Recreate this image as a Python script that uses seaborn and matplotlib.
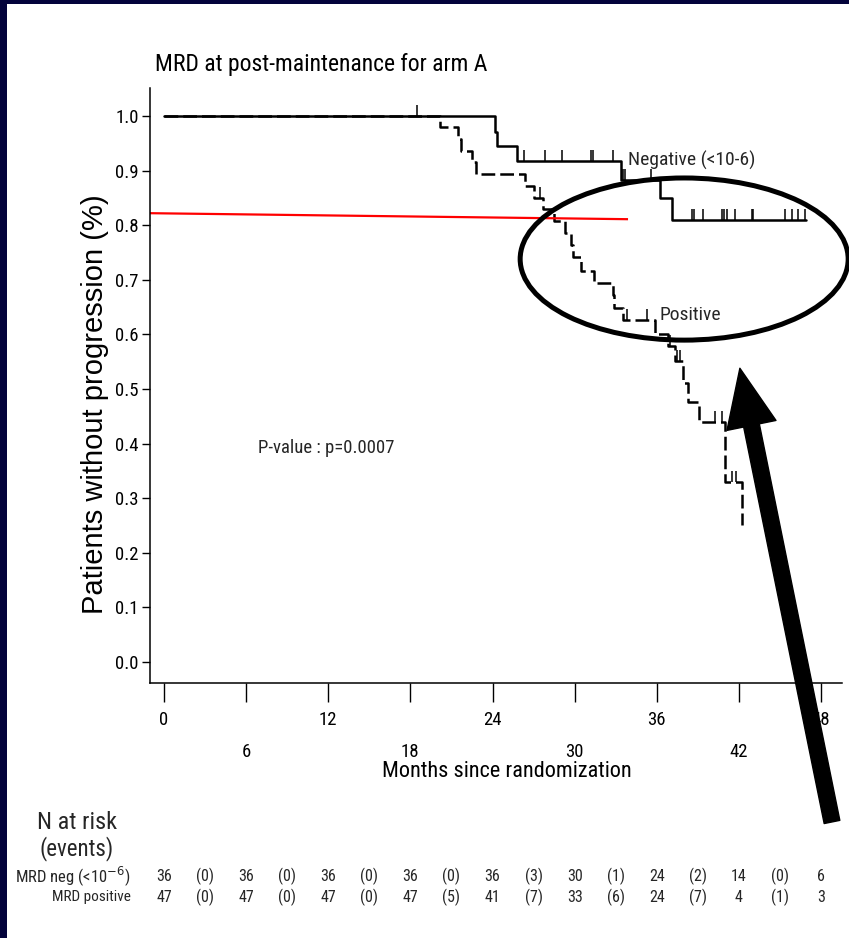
import numpy as np
import pandas as pd
import matplotlib
matplotlib.use("Agg")
import matplotlib.pyplot as plt
from matplotlib import font_manager
from matplotlib.font_manager import FontProperties
from matplotlib.patches import Ellipse, FancyArrowPatch, Rectangle
from matplotlib.transforms import blended_transform_factory
import seaborn as sns

# ---------------------------------------------------------------- data
# Kaplan-Meier steps: time of each drop (months) and survival after it
neg_months = [0, 24.2, 24.35, 25.8, 33.4, 36.2, 37.1, 46.9]
neg_surv = [1.0, 0.971, 0.945, 0.918, 0.883, 0.849, 0.810, 0.810]

pos_months = [0, 20.2, 21.5, 21.7, 22.5, 22.8, 26.4, 27.0, 27.7, 28.5, 29.3,
              29.7, 29.9, 30.5, 31.4, 32.8, 32.9, 33.55, 35.9, 36.8, 37.3,
              37.9, 38.3, 39.1, 41.0, 42.2]
pos_surv = [1.0, 0.979, 0.957, 0.936, 0.915, 0.894, 0.872, 0.850, 0.829, 0.807,
            0.785, 0.763, 0.741, 0.717, 0.695, 0.672, 0.649, 0.626, 0.601,
            0.578, 0.552, 0.511, 0.476, 0.440, 0.330, 0.250]

# censoring times
neg_censored = [18.5, 26.3, 27.8, 29.1, 31.2, 31.35, 32.8, 33.5, 33.7, 35.6,
                38.6, 38.7, 39.4, 40.8, 40.9, 41.1, 41.7, 42.95, 43.05, 45.4,
                45.9, 46.3, 46.85]
pos_censored = [27.5, 33.8, 35.3, 37.0, 37.5, 37.7, 40.25, 40.8, 41.5, 41.8]

# reference level line
ref_months = [-1.02, 33.9]
ref_level = [0.822, 0.811]

# number at risk (every 6 months) and events in between
risk_months = [0, 6, 12, 18, 24, 30, 36, 42, 48]
event_months = [3, 9, 15, 21, 27, 33, 39, 45]
neg_at_risk = [36, 36, 36, 36, 36, 30, 24, 14, 6]
neg_events = [0, 0, 0, 0, 3, 1, 2, 0]
pos_at_risk = [47, 47, 47, 47, 41, 33, 24, 4, 3]
pos_events = [0, 0, 0, 5, 7, 6, 7, 1]

x_ticks = [0, 6, 12, 18, 24, 30, 36, 42, 48]
y_ticks = [0.0, 0.1, 0.2, 0.3, 0.4, 0.5, 0.6, 0.7, 0.8, 0.9, 1.0]

# highlight ellipse (centre, width, height in data units) and arrow
ell_center = (38.0, 0.738)
ell_size = (23.96, 0.297)
arrow_tail = (48.8, -0.293)
arrow_tip = (42.07, 0.538)

# ---------------------------------------------------------------- fonts
sns.set_theme(style="white")
plt.rcParams["font.family"] = ["Liberation Sans", "DejaVu Sans"]


def pick_narrow_font():
    """Return FontProperties for a narrow sans face if one is installed."""
    pref = ["liberation sans narrow", "arial narrow", "roboto condensed",
            "noto sans condensed", "open sans condensed", "noto sans",
            "open sans", "dejavu sans", "liberation sans"]
    found = {}
    for f in font_manager.fontManager.ttflist:
        nm = f.name.lower()
        st = str(f.stretch).lower()
        narrow = ("narrow" in nm or ("condensed" in nm and "extra" not in nm
                                      and "semi" not in nm)
                  or st in ("condensed", "semi-condensed"))
        if not narrow or f.style != "normal":
            continue
        if f.weight not in (400, "normal", "regular", "book"):
            continue
        for i, p in enumerate(pref):
            if nm.startswith(p):
                if i not in found:
                    found[i] = f.fname
                break
    if found:
        return FontProperties(fname=found[min(found)]), True
    return FontProperties(family=["Liberation Sans", "DejaVu Sans"]), False


NARROW_FP, HAS_NARROW = pick_narrow_font()
K = 1.0 if HAS_NARROW else 0.86   # size factor when only a regular face exists


def nfp(size):
    fp = NARROW_FP.copy()
    fp.set_size(size * K)
    return fp


NAVY = "#03033b"
W, H = 849, 938
fig = plt.figure(figsize=(W / 100, H / 100), dpi=100)
fig.patch.set_facecolor("white")
fig.patches.append(Rectangle((0, 0), 7 / W, 1, transform=fig.transFigure,
                             facecolor=NAVY, edgecolor="none", zorder=-10))
fig.patches.append(Rectangle((0, 1 - 4 / H), 1, 4 / H, transform=fig.transFigure,
                             facecolor=NAVY, edgecolor="none", zorder=-10))

ax = fig.add_axes([150 / W, 1 - 683 / H, 692 / W, (683 - 88) / H])
ax.set_facecolor("none")

# ---------------------------------------------------------------- curves
df = pd.concat([
    pd.DataFrame({"Months": neg_months, "Survival": neg_surv, "MRD": "Negative"}),
    pd.DataFrame({"Months": pos_months, "Survival": pos_surv, "MRD": "Positive"}),
], ignore_index=True)

sns.lineplot(data=df, x="Months", y="Survival", style="MRD",
             dashes={"Negative": "", "Positive": (5.5, 2.0)},
             color="black", estimator=None, sort=False,
             drawstyle="steps-post", lw=1.8, legend=False, ax=ax)


def level_at(months, surv, t):
    idx = np.searchsorted(months, t, side="right") - 1
    return np.asarray(surv)[idx]


for cens, months, surv in [(neg_censored, neg_months, neg_surv),
                           (pos_censored, pos_months, pos_surv)]:
    lv = level_at(np.asarray(months), surv, np.asarray(cens))
    ax.vlines(cens, lv, lv + 0.02, color="black", lw=1.1)

ax.plot(ref_months, ref_level, color="red", lw=1.6, solid_capstyle="butt")

# ---------------------------------------------------------------- axes
ax.set_xlim(-1.02, 49.53)
ax.set_ylim(-0.0385, 1.0513)
for s in ["top", "right"]:
    ax.spines[s].set_visible(False)
for s in ["left", "bottom"]:
    ax.spines[s].set_color("black")
    ax.spines[s].set_linewidth(1.1)

ax.set_yticks(y_ticks)
ax.set_yticklabels([f"{v:.1f}" for v in y_ticks])
ax.tick_params(axis="y", direction="out", length=6, width=1, pad=2, colors="black", left=True)
for lab in ax.get_yticklabels():
    lab.set_fontproperties(nfp(13.5))

ax.set_xticks(x_ticks)
ax.set_xticklabels([str(v) for v in x_ticks])
ax.tick_params(axis="x", direction="out", length=14, width=1, colors="black", bottom=True)
for lab in ax.get_xticklabels():
    lab.set_fontproperties(nfp(13.5))
for i, tick in enumerate(ax.xaxis.get_major_ticks()):
    tick.set_pad(6 if i % 2 == 0 else 29)

ax.set_xlabel("")
ax.set_ylabel("")

fig.text(155 / W, 1 - 65 / H, "MRD at post-maintenance for arm A",
         ha="left", va="center", fontproperties=nfp(17), color="black")
fig.text(95 / W, 1 - 404 / H, "Patients without progression (%)", rotation=90,
         ha="center", va="center", fontsize=21, color="black",
         family=["Liberation Sans", "DejaVu Sans"])
fig.text(507 / W, 1 - 771 / H, "Months since randomization",
         ha="center", va="center", fontproperties=nfp(16), color="black")

# curve annotations
ax.text(33.9, 0.919, "Negative (<10-6)", ha="left", va="center", fontproperties=nfp(14))
ax.text(36.2, 0.636, "Positive", ha="left", va="center", fontproperties=nfp(14))
ax.text(6.87, 0.392, "P-value : p=0.0007", ha="left", va="center", fontproperties=nfp(13.5))

# ellipse and arrow
ax.add_patch(Ellipse(ell_center, ell_size[0], ell_size[1], fill=False,
                     edgecolor="black", lw=3.6, clip_on=False, zorder=6))
ax.add_patch(FancyArrowPatch(posA=arrow_tail, posB=arrow_tip,
                             arrowstyle="simple,head_length=42,head_width=36,tail_width=11.5",
                             mutation_scale=1, color="black", shrinkA=0, shrinkB=0,
                             clip_on=False, zorder=7))

# ---------------------------------------------------------------- at-risk table
fig.text(77 / W, 1 - 822 / H, "N at risk", ha="center", va="center", fontproperties=nfp(17.5))
fig.text(77 / W, 1 - 849 / H, "(events)", ha="center", va="center", fontproperties=nfp(16.5))
fig.text(131 / W, 1 - 876 / H, r"MRD neg (<10$^{-6}$)", ha="right", va="center",
         fontproperties=nfp(12))
fig.text(131 / W, 1 - 897 / H, "MRD positive", ha="right", va="center", fontproperties=nfp(11))

tr = blended_transform_factory(ax.transData, fig.transFigure)
for yy, at_risk, events in [(1 - 876 / H, neg_at_risk, neg_events),
                            (1 - 897 / H, pos_at_risk, pos_events)]:
    for t, n in zip(risk_months, at_risk):
        ax.text(t, yy, str(n), transform=tr, ha="center", va="center",
                fontproperties=nfp(11.5), clip_on=False)
    for t, e in zip(event_months, events):
        ax.text(t, yy, f"({e})", transform=tr, ha="center", va="center",
                fontproperties=nfp(11.5), clip_on=False)

fig.savefig("out.png", dpi=100, facecolor=fig.get_facecolor())
